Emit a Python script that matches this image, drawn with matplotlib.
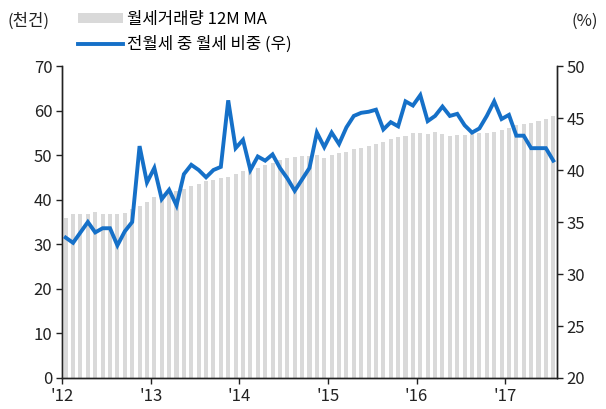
import matplotlib.pyplot as plt
import numpy as np
from matplotlib.patches import Patch
from matplotlib.lines import Line2D

plt.rcParams["font.family"] = ["Noto Sans CJK KR", "DejaVu Sans"]

# 월세거래량 12M MA (천건), 2012.01 ~ 2017.07
volume = [36.0, 36.7, 36.9, 36.9, 37.2, 36.9, 36.7, 36.8, 37.0, 38.0, 38.6, 39.5,
          40.5, 41.1, 41.6, 42.0, 42.5, 43.1, 43.5, 44.1, 44.4, 44.9, 45.1, 45.8,
          46.4, 46.8, 47.2, 47.8, 48.3, 48.9, 49.3, 49.5, 49.7, 49.8, 50.0, 49.4,
          50.0, 50.4, 50.6, 51.4, 51.5, 52.1, 52.6, 53.0, 53.6, 54.0, 54.2, 55.0,
          54.9, 54.7, 55.1, 54.7, 54.2, 54.5, 54.6, 54.9, 55.0, 55.0, 55.1, 55.6,
          56.2, 56.8, 57.0, 57.2, 57.7, 58.0, 58.8]

# 전월세 중 월세 비중 (%)
share = [33.5, 33.0, 34.0, 35.0, 34.0, 34.4, 34.4, 32.75, 34.1, 35.0, 42.3, 38.8,
         40.2, 37.2, 38.1, 36.6, 39.6, 40.5, 40.0, 39.3, 40.0, 40.3, 46.7, 42.1,
         42.9, 40.0, 41.3, 40.9, 41.5, 40.2, 39.2, 38.0, 39.1, 40.2, 43.6, 42.2,
         43.6, 42.5, 44.1, 45.2, 45.5, 45.6, 45.8, 43.9, 44.6, 44.2, 46.6, 46.2,
         47.2, 44.7, 45.2, 46.1, 45.2, 45.4, 44.3, 43.6, 44.0, 45.2, 46.6, 44.9,
         45.3, 43.3, 43.3, 42.1, 42.1, 42.1, 40.9]

year_labels = ["'12", "'13", "'14", "'15", "'16", "'17"]

x = np.arange(len(volume)) + 0.5

fig = plt.figure(figsize=(6.06, 4.09), dpi=100)
ax = fig.add_axes([0.1023, 0.0758, 0.8168, 0.7628])
ax2 = ax.twinx()

ax.bar(x, volume, width=0.55, color="#d9d9d9", zorder=1)
ax2.plot(x, share, color="#1570c8", lw=2.8, solid_joinstyle="miter", zorder=3)

ax.set_xlim(0, len(volume))
ax.set_ylim(0, 70)
ax.set_yticks(range(0, 71, 10))
ax2.set_ylim(20, 50)
ax2.set_yticks(range(20, 51, 5))
ax.set_xticks(np.arange(len(year_labels)) * 12)
ax.set_xticklabels(year_labels)

for a in (ax, ax2):
    a.spines["top"].set_visible(False)
    for s in ("left", "right", "bottom"):
        a.spines[s].set_color("#222222")
        a.spines[s].set_linewidth(1.0)
    a.tick_params(labelsize=12, colors="#222222", length=4, width=1.0, pad=3)

fig.text(0.013, 0.948, "(천건)", fontsize=12, color="#222222", va="center")
fig.text(0.987, 0.948, "(%)", fontsize=12, color="#222222", va="center", ha="right")

handles = [Patch(facecolor="#d9d9d9", edgecolor="none"),
           Line2D([], [], color="#1570c8", lw=2.8)]
labels = ["월세거래량 12M MA", "전월세 중 월세 비중 (우)"]
fig.legend(handles, labels, loc="upper left", bbox_to_anchor=(0.118, 0.99),
           frameon=False, fontsize=12, handlelength=2.7, handleheight=0.5,
           handletextpad=0.25, labelspacing=0.5, borderaxespad=0)

fig.savefig("out.png", dpi=100)
